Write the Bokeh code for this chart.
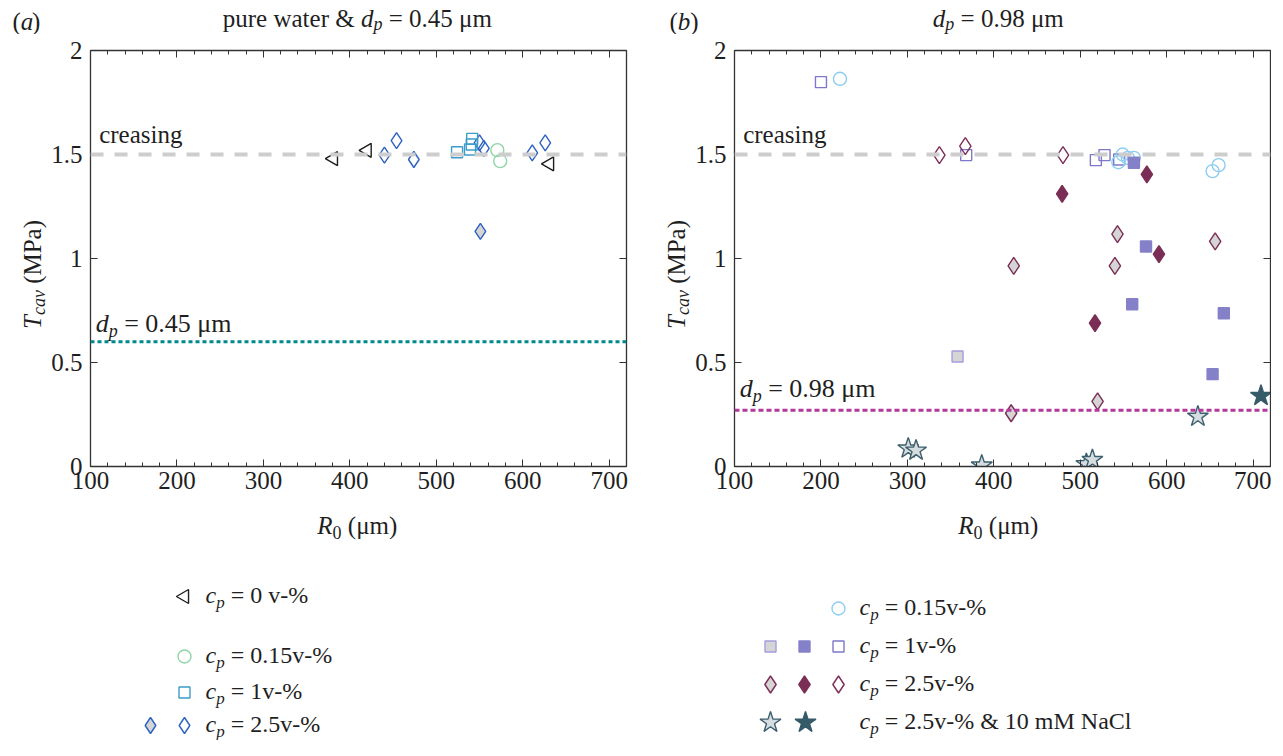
import math
from bokeh.plotting import figure
from bokeh.models import Range1d, LinearAxis, FixedTicker, Span, Label
from bokeh.layouts import column, row
from bokeh.embed import file_html
from bokeh.resources import INLINE
from bokeh.core.properties import value

FONT = "Liberation Serif"
TXT = "#1f1f1f"
AX = "#333333"
BASE_FIX = 0.3  # svg text sits ~0.3em low with alphabetic baseline

# ---------------- data: panel (a) ----------------
a_tri_x = [381, 420, 631]
a_tri_y = [1.48, 1.52, 1.455]
a_circ_x = [570.6, 573.9]
a_circ_y = [1.521, 1.468]
a_sq_x = [524, 539, 541, 541.5]
a_sq_y = [1.511, 1.524, 1.548, 1.575]
a_dia_x = [440, 454, 474, 550, 555, 611, 626]
a_dia_y = [1.497, 1.567, 1.476, 1.556, 1.529, 1.508, 1.556]
a_diag_x = [551]
a_diag_y = [1.13]

# ---------------- data: panel (b) ----------------
b_circ_x = [222, 544, 549, 555, 562, 653, 660]
b_circ_y = [1.864, 1.463, 1.50, 1.484, 1.484, 1.42, 1.449]
b_sqo_x = [200, 368, 518, 528, 545]
b_sqo_y = [1.848, 1.497, 1.473, 1.497, 1.476]
b_sqf_x = [562, 576, 560, 666, 653]
b_sqf_y = [1.46, 1.058, 0.78, 0.737, 0.444]
b_sqg_x = [358]
b_sqg_y = [0.529]
b_diao_x = [337, 367, 480]
b_diao_y = [1.497, 1.54, 1.497]
b_diaf_x = [479, 577, 591, 517]
b_diaf_y = [1.311, 1.404, 1.021, 0.689]
b_diag_x = [543, 656, 423, 540, 520, 420]
b_diag_y = [1.117, 1.082, 0.965, 0.965, 0.313, 0.256]
b_starg_x = [301, 310, 386, 507, 514, 636]
b_starg_y = [0.087, 0.077, 0.005, 0.012, 0.032, 0.24]
b_starf_x = [709]
b_starf_y = [0.34]

creasing_level = 1.5
a_dp_level = 0.6
b_dp_level = 0.27

x_ticks = [100, 200, 300, 400, 500, 600, 700]
x_minor = list(range(100, 721, 20))
y_ticks = [0, 0.5, 1, 1.5, 2]
y_labels = {0: "0", 0.5: "0.5", 1: "1", 1.5: "1.5", 2: "2"}

# colours
A_TRI = "#1e1e1e"
A_CIRC = "#8fd4a8"
A_SQ = "#3d9cc9"
A_DIA = "#2e62c2"
GREY = "#d5d5d5"
B_CIRC = "#8ccdf0"
B_SQ = "#7d78c9"
B_SQF = "#8581c9"
B_SQG = "#a39ee0"
B_DIA = "#7b2e55"
B_STE = "#3d5f6e"
B_STG = "#d5dde0"
B_STF = "#355a68"
CREASE = "#cdcdcd"
A_DP = "#00898c"
B_DP = "#b4399d"

# ---------------- geometry (layout pixels) ----------------
TITLE_H = 34
BT, FH, BB = 16, 416, 34
MAIN_H = BT + FH + BB
BOT_H = 740 - TITLE_H - MAIN_H
FW = 536
YLA_W, PA_BL, PA_BR = 48, 41, 30
YLB_W, PB_BL, PB_BR = 36, 39, 1
PA_W = PA_BL + FW + PA_BR
PB_W = PB_BL + FW + PB_BR
B_LEFT = YLA_W + PA_W
A_W = YLA_W + PA_W
B_W = YLB_W + PB_W
A_FRAME_L = YLA_W + PA_BL
B_FRAME_L = B_LEFT + YLB_W + PB_BL

EM = {" ": 0.25, "(": 0.333, ")": 0.333, "%": 0.833, "&": 0.778, "-": 0.333,
      ".": 0.25, "=": 0.564, "C": 0.667, "M": 0.889, "N": 0.722, "P": 0.556,
      "R": 0.611, "T": 0.556, "a": 0.444, "c": 0.444, "d": 0.5, "e": 0.444,
      "g": 0.5, "i": 0.278, "l": 0.278, "m": 0.778, "n": 0.5, "p": 0.5,
      "r": 0.333, "s": 0.389, "t": 0.278, "u": 0.5, "v": 0.5, "w": 0.722,
      "μ": 0.55, "b": 0.5}


def tw(s, size):
    return sum(EM.get(c, 0.5) for c in s) * size


def pieces(parts, align):
    total = sum(tw(t, s) for t, s, _, _ in parts)
    cum = -total / 2 if align == "center" else 0.0
    out = []
    for t, s, it, shift in parts:
        lead = len(t) - len(t.lstrip(" "))
        cum += tw(" " * lead, s)
        t2 = t.strip(" ")
        out.append((t2, s, it, shift, cum))
        cum += tw(t2, s)
        trail = len(t) - len(t.rstrip(" ")) if t2 else 0
        cum += tw(" " * trail, s)
    return out


def strip_text(f, h, parts, lx, ly, align="left", vertical=False):
    """rich text in a text-strip figure whose data units are pixels (ly = baseline from top)"""
    for t, s, it, shift, cum in pieces(parts, align):
        fix = BASE_FIX * s
        if vertical:
            x, y, ang = lx + shift - fix, h - (ly - cum), math.pi / 2
        else:
            x, y, ang = lx + cum, h - (ly + shift - fix), 0
        f.text(x=[x], y=[y], text=[t], angle=ang, text_font=value(FONT),
               text_font_size=value(f"{s}px"),
               text_font_style="italic" if it else "normal",
               text_color=TXT, text_baseline="alphabetic", text_align="left")


def frame_text(p, parts, dx, dy):
    """rich text inside a panel frame, anchored (baseline) at a data point"""
    for t, s, it, shift, cum in pieces(parts, "left"):
        p.add_layout(Label(x=dx, y=dy, x_offset=cum, y_offset=-shift + BASE_FIX * s, text=t,
                           text_font=FONT, text_font_size=f"{s}px",
                           text_font_style="italic" if it else "normal",
                           text_color=TXT, text_baseline="alphabetic",
                           text_align="left"))


def strip(w, h):
    f = figure(frame_width=w, frame_height=h, x_range=Range1d(0, w),
               y_range=Range1d(0, h), min_border=0, x_axis_type=None,
               y_axis_type=None, output_backend="svg", toolbar_location=None, tools="")
    f.outline_line_color = None
    f.title.visible = False
    f.background_fill_color = "white"
    f.border_fill_color = "white"
    return f


def panel(bl, br):
    p = figure(frame_width=FW, frame_height=FH, min_border_left=bl,
               min_border_right=br, min_border_top=BT, min_border_bottom=BB,
               x_range=Range1d(100, 720), y_range=Range1d(0, 2),
               output_backend="svg", toolbar_location=None, tools="")
    p.title.visible = False
    p.grid.visible = False
    p.outline_line_color = AX
    p.add_layout(LinearAxis(), "above")
    p.add_layout(LinearAxis(), "right")
    for ax in p.xaxis:
        ax.ticker = FixedTicker(ticks=x_ticks, minor_ticks=x_minor)
    for ax in p.yaxis:
        ax.ticker = FixedTicker(ticks=y_ticks, minor_ticks=[])
    for ax in p.axis:
        ax.axis_line_color = AX
        ax.axis_line_width = 1.3
        ax.major_tick_line_color = AX
        ax.minor_tick_line_color = AX
        ax.major_tick_in = 7
        ax.major_tick_out = 0
        ax.minor_tick_in = 4
        ax.minor_tick_out = 0
        ax.major_label_text_font = FONT
        ax.major_label_text_font_size = "25px"
        ax.major_label_text_color = TXT
    p.xaxis[0].major_label_standoff = 14
    p.yaxis[0].major_label_standoff = 8
    p.yaxis[0].major_label_overrides = y_labels
    for ax in (p.above[0], p.right[0]):
        ax.major_label_text_font_size = "1px"
        ax.major_label_text_color = None
        ax.major_label_standoff = 0
    return p


def dp(label, size=26, sub=18, shift=5):
    return [("d", size, True, 0), ("p", sub, True, shift), (" = " + label + " μm", size, False, 0)]


# ---------------- panel (a) ----------------
pa = panel(PA_BL, PA_BR)
pa.add_layout(Span(location=creasing_level, dimension="width", line_color=CREASE,
                   line_width=4, line_dash="13 11"))
pa.add_layout(Span(location=a_dp_level, dimension="width", line_color=A_DP,
                   line_width=3, line_dash="4 3"))
pa.scatter(a_tri_x, a_tri_y, marker="triangle", angle=math.pi / 2, size=14,
           fill_color=None, line_color=A_TRI, line_width=1.4)
pa.scatter(a_diag_x, a_diag_y, marker="diamond", size=16, fill_color=GREY,
           line_color=A_DIA, line_width=1.4)
pa.scatter(a_dia_x, a_dia_y, marker="diamond", size=16, fill_color=None,
           line_color=A_DIA, line_width=1.4)
pa.scatter(a_sq_x, a_sq_y, marker="square", size=11, fill_color=None,
           line_color=A_SQ, line_width=1.4)
pa.scatter(a_circ_x, a_circ_y, marker="circle", size=13, fill_color=None,
           line_color=A_CIRC, line_width=1.4)
frame_text(pa, [("creasing", 25, False, 0)], 110, 1.56)
frame_text(pa, dp("0.45"), 106, 0.65)

# ---------------- panel (b) ----------------
pb = panel(PB_BL, PB_BR)
pb.add_layout(Span(location=creasing_level, dimension="width", line_color=CREASE,
                   line_width=4, line_dash="13 11"))
pb.add_layout(Span(location=b_dp_level, dimension="width", line_color=B_DP,
                   line_width=3, line_dash="5 3"))
pb.scatter(b_diag_x, b_diag_y, marker="diamond", size=17, fill_color=GREY,
           line_color=B_DIA, line_width=1.4)
pb.scatter(b_sqg_x, b_sqg_y, marker="square", size=11, fill_color=GREY,
           line_color=B_SQG, line_width=1.4)
pb.scatter(b_sqo_x, b_sqo_y, marker="square", size=11, fill_color=None,
           line_color=B_SQ, line_width=1.4)
pb.scatter(b_diao_x, b_diao_y, marker="diamond", size=17, fill_color=None,
           line_color=B_DIA, line_width=1.4)
pb.scatter(b_diaf_x, b_diaf_y, marker="diamond", size=17, fill_color=B_DIA,
           line_color=B_DIA, line_width=1.4)
pb.scatter(b_circ_x, b_circ_y, marker="circle", size=13, fill_color=None,
           line_color=B_CIRC, line_width=1.4)
pb.scatter(b_sqf_x, b_sqf_y, marker="square", size=11, fill_color=B_SQF,
           line_color=B_SQF, line_width=1.4)
pb.scatter(b_starg_x, b_starg_y, marker="star", size=22, fill_color=B_STG,
           line_color=B_STE, line_width=1.4)
pb.scatter(b_starf_x, b_starf_y, marker="star", size=22, fill_color=B_STF,
           line_color=B_STF, line_width=1.4)
frame_text(pb, [("creasing", 25, False, 0)], 110, 1.56)
frame_text(pb, dp("0.98"), 106, 0.337)

# ---------------- title strips ----------------
PAREN = 25
ta = strip(A_W, TITLE_H)
strip_text(ta, TITLE_H, [("(", PAREN, False, 0), ("a", PAREN, True, 0), (")", PAREN, False, 0)], 12, 28)
strip_text(ta, TITLE_H, [("pure water & ", 25, False, 0)] + dp("0.45", 25, 18, 4),
           A_FRAME_L + FW / 2, 25, align="center")
tb = strip(B_W, TITLE_H)
strip_text(tb, TITLE_H, [("(", PAREN, False, 0), ("b", PAREN, True, 0), (")", PAREN, False, 0)], 14, 28)
strip_text(tb, TITLE_H, dp("0.98", 25, 18, 4), B_FRAME_L - B_LEFT + FW / 2, 25, align="center")

# ---------------- y-label strips ----------------
YL = [("T", 25, True, 0), ("cav", 18, True, 5), (" (MPa)", 25, False, 0)]
yla = strip(YLA_W, MAIN_H)
strip_text(yla, MAIN_H, YL, 39, BT + FH / 2, align="center", vertical=True)
ylb = strip(YLB_W, MAIN_H)
strip_text(ylb, MAIN_H, YL, 27, BT + FH / 2, align="center", vertical=True)

# ---------------- bottom strips: x-label + legends ----------------
XL = [("R", 25, True, 0), ("0", 18, False, 5), (" (μm)", 25, False, 0)]
BOT_TOP = TITLE_H + MAIN_H
LBASE = 6


def cp(rest):
    return [("c", 24, True, 0), ("p", 17, True, 5), (rest, 24, False, 0)]


def mk(f, lx, ly, **kw):
    f.scatter([lx], [BOT_H - ly], **kw)


ba = strip(A_W, BOT_H)
strip_text(ba, BOT_H, XL, A_FRAME_L + FW / 2, 532 - BOT_TOP, align="center")
rows_a = [596, 656, 692, 725]
mk(ba, 184, rows_a[0] - BOT_TOP, marker="triangle", angle=math.pi / 2, size=14,
   fill_color=None, line_color=A_TRI, line_width=1.4)
strip_text(ba, BOT_H, cp(" = 0 v-%"), 205, rows_a[0] + LBASE - BOT_TOP)
mk(ba, 184, rows_a[1] - BOT_TOP, marker="circle", size=13, fill_color=None,
   line_color=A_CIRC, line_width=1.4)
strip_text(ba, BOT_H, cp(" = 0.15v-%"), 205, rows_a[1] + LBASE - BOT_TOP)
mk(ba, 184, rows_a[2] - BOT_TOP, marker="square", size=11, fill_color=None,
   line_color=A_SQ, line_width=1.4)
strip_text(ba, BOT_H, cp(" = 1v-%"), 205, rows_a[2] + LBASE - BOT_TOP)
mk(ba, 150, rows_a[3] - BOT_TOP, marker="diamond", size=16, fill_color=GREY,
   line_color=A_DIA, line_width=1.4)
mk(ba, 184, rows_a[3] - BOT_TOP, marker="diamond", size=16, fill_color=None,
   line_color=A_DIA, line_width=1.4)
strip_text(ba, BOT_H, cp(" = 2.5v-%"), 205, rows_a[3] + LBASE - BOT_TOP)

bb = strip(B_W, BOT_H)
strip_text(bb, BOT_H, XL, B_FRAME_L - B_LEFT + FW / 2, 532 - BOT_TOP, align="center")
rows_b = [608, 646, 684, 722]
c1, c2, c3, ct = 770 - B_LEFT, 804 - B_LEFT, 838 - B_LEFT, 859 - B_LEFT
mk(bb, c3, rows_b[0] - BOT_TOP, marker="circle", size=13, fill_color=None,
   line_color=B_CIRC, line_width=1.4)
strip_text(bb, BOT_H, cp(" = 0.15v-%"), ct, rows_b[0] + LBASE - BOT_TOP)
mk(bb, c1, rows_b[1] - BOT_TOP, marker="square", size=11, fill_color=GREY,
   line_color=B_SQG, line_width=1.4)
mk(bb, c2, rows_b[1] - BOT_TOP, marker="square", size=11, fill_color=B_SQF,
   line_color=B_SQF, line_width=1.4)
mk(bb, c3, rows_b[1] - BOT_TOP, marker="square", size=11, fill_color=None,
   line_color=B_SQ, line_width=1.4)
strip_text(bb, BOT_H, cp(" = 1v-%"), ct, rows_b[1] + LBASE - BOT_TOP)
mk(bb, c1, rows_b[2] - BOT_TOP, marker="diamond", size=17, fill_color=GREY,
   line_color=B_DIA, line_width=1.4)
mk(bb, c2, rows_b[2] - BOT_TOP, marker="diamond", size=17, fill_color=B_DIA,
   line_color=B_DIA, line_width=1.4)
mk(bb, c3, rows_b[2] - BOT_TOP, marker="diamond", size=17, fill_color=None,
   line_color=B_DIA, line_width=1.4)
strip_text(bb, BOT_H, cp(" = 2.5v-%"), ct, rows_b[2] + LBASE - BOT_TOP)
mk(bb, c1, rows_b[3] - BOT_TOP, marker="star", size=22, fill_color=B_STG,
   line_color=B_STE, line_width=1.4)
mk(bb, c2 + 1, rows_b[3] - BOT_TOP, marker="star", size=22, fill_color=B_STF,
   line_color=B_STF, line_width=1.4)
strip_text(bb, BOT_H, cp(" = 2.5v-% & 10 mM NaCl"), ct, rows_b[3] + LBASE - BOT_TOP)

layout = column(row(ta, tb), row(yla, pa, ylb, pb), row(ba, bb))
open("out.html", "w").write(file_html(layout, INLINE))
